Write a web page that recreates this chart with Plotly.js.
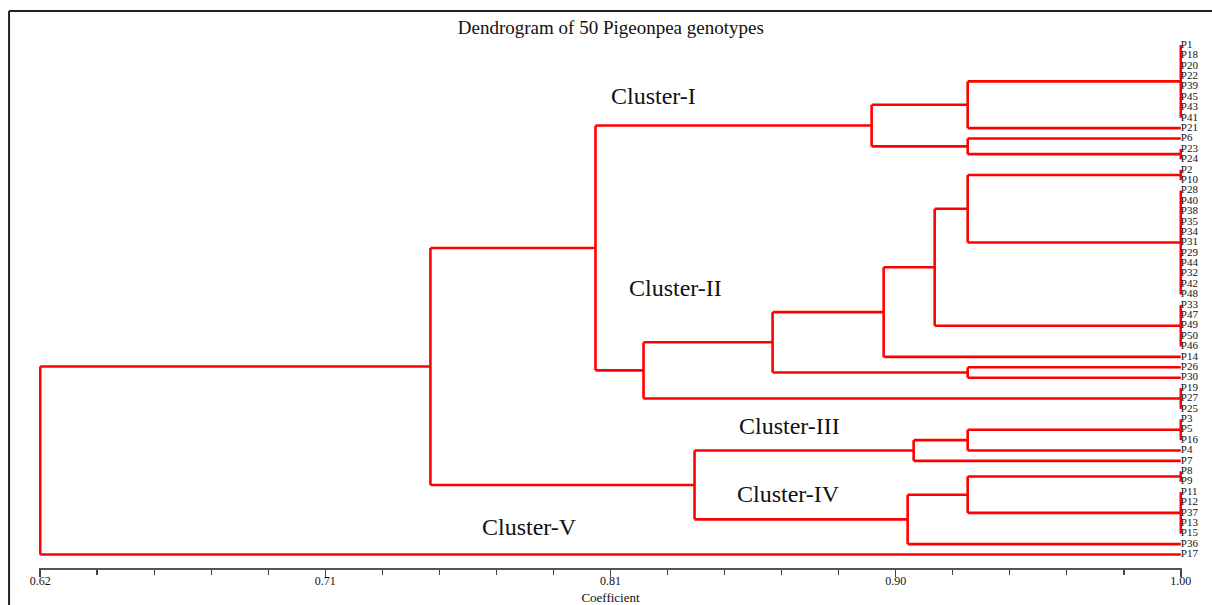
<!DOCTYPE html>
<html>
<head>
<meta charset="utf-8">
<script src="https://cdn.plot.ly/plotly-3.0.1.min.js"></script>
<style>html,body{margin:0;padding:0;background:#fff;}#chart{width:1212px;height:605px;}</style>
</head>
<body>
<div id="chart"></div>
<script>
// Leaf order, top to bottom
const leaves = ["P1","P18","P20","P22","P39","P45","P43","P41","P21","P6","P23","P24",
  "P2","P10","P28","P40","P38","P35","P34","P31","P29","P44","P32","P42","P48",
  "P33","P47","P49","P50","P46","P14","P26","P30","P19","P27","P25",
  "P3","P5","P16","P4","P7","P8","P9","P11","P12","P37","P13","P15","P36","P17"];

// Merge nodes: [name, children, similarity coefficient]
const merges = [
  ["G1", ["P1","P18","P20","P22","P39","P45","P43","P41"], 1.00],
  ["G2", ["P23","P24"], 1.00],
  ["G3", ["P2","P10"], 1.00],
  ["G4", ["P28","P40","P38","P35","P34","P31","P29","P44","P32","P42","P48"], 1.00],
  ["G5", ["P33","P47","P49","P50","P46"], 1.00],
  ["G6", ["P19","P27","P25"], 1.00],
  ["G7", ["P3","P5","P16"], 1.00],
  ["G8", ["P8","P9"], 1.00],
  ["G9", ["P11","P12","P37","P13","P15"], 1.00],
  ["N1", ["G1","P21"], 0.929],
  ["N2", ["P6","G2"], 0.929],
  ["N3", ["N1","N2"], 0.897],
  ["N4", ["G3","G4"], 0.929],
  ["N5", ["N4","G5"], 0.918],
  ["N6", ["N5","P14"], 0.901],
  ["N7", ["P26","P30"], 0.929],
  ["N8", ["N6","N7"], 0.864],
  ["N9", ["N8","G6"], 0.821],
  ["N10", ["N3","N9"], 0.805],
  ["N11", ["G7","P4"], 0.929],
  ["N12", ["N11","P7"], 0.911],
  ["N13", ["G8","G9"], 0.929],
  ["N14", ["N13","P36"], 0.909],
  ["N15", ["N12","N14"], 0.838],
  ["N16", ["N10","N15"], 0.750],
  ["N17", ["N16","P17"], 0.62]
];
const rootName = "N17";

// Cluster labels: [text, coefficient, leaf-row position]
const clusterNames = ["Cluster-I","Cluster-II","Cluster-III","Cluster-IV","Cluster-V"];
const clusterX = [0.8242, 0.8318, 0.8698, 0.8694, 0.7829];
const clusterY = [4.9, 23.4, 36.6, 43.2, 46.35];

const tickVals = [0.62, 0.715, 0.81, 0.905, 1.00];
const tickText = ["0.62", "0.71", "0.81", "0.90", "1.00"];

// Build line coordinates from the tree
const mergeMap = {};
merges.forEach(m => { mergeMap[m[0]] = {children: m[1], h: m[2]}; });
const lx = [], ly = [];
function place(name) {
  if (!(name in mergeMap)) {
    return {x: 1.00, y: leaves.indexOf(name)};
  }
  const node = mergeMap[name];
  const kids = node.children.map(place);
  kids.forEach(k => { lx.push(node.h, k.x, null); ly.push(k.y, k.y, null); });
  const y0 = kids[0].y, y1 = kids[kids.length - 1].y;
  lx.push(node.h, node.h, null); ly.push(y0, y1, null);
  return {x: node.h, y: (y0 + y1) / 2};
}
place(rootName);

const serif = "Liberation Serif, Times New Roman, serif";

const traces = [
  {type: "scatter", mode: "lines", x: lx, y: ly,
   line: {color: "#ff0000", width: 2.6}, hoverinfo: "skip", connectgaps: false},
  {type: "scatter", mode: "text", x: leaves.map(() => 1.00), y: leaves.map((_, i) => i),
   text: leaves, textposition: "middle right", cliponaxis: false,
   textfont: {family: serif, size: 11, color: "#111"}, hoverinfo: "skip"}
];

const annotations = clusterNames.map((t, i) => ({
  text: t, x: clusterX[i], y: clusterY[i], xref: "x", yref: "y",
  showarrow: false, font: {family: serif, size: 24, color: "#111"}
}));

const layout = {
  width: 1212, height: 605,
  margin: {l: 39, r: 30, t: 35, b: 37},
  paper_bgcolor: "#fff", plot_bgcolor: "#fff",
  showlegend: false,
  title: {text: "Dendrogram of 50 Pigeonpea genotypes", x: 0.504, xref: "container",
          y: 0.954, yref: "container", yanchor: "middle",
          font: {family: serif, size: 19, color: "#111"}},
  xaxis: {range: [0.6196, 1.0004], tickmode: "array", tickvals: tickVals, ticktext: tickText,
          ticks: "outside", ticklen: 7, tickwidth: 1.5, tickcolor: "#444",
          ticklabelstandoff: -6,
          showline: true, linecolor: "#555", linewidth: 2, showgrid: false, zeroline: false,
          tickfont: {family: serif, size: 12, color: "#111"},
          minor: {tick0: 0.62, dtick: 0.019, ticks: "outside", ticklen: 5, tickwidth: 1.5,
                  tickcolor: "#444", showgrid: false},
          title: {text: "Coefficient", standoff: 8, font: {family: serif, size: 13, color: "#111"}}},
  yaxis: {range: [50.3, -0.96], visible: false, showgrid: false, zeroline: false},
  annotations: annotations,
  shapes: [
    {type: "line", xref: "paper", yref: "paper", x0: -0.0262, x1: -0.0262, y0: 1.045, y1: -0.1,
     line: {color: "#222", width: 2}},
    {type: "line", xref: "paper", yref: "paper", x0: -0.0262, x1: 1.05, y0: 1.045, y1: 1.045,
     line: {color: "#222", width: 2}}
  ]
};

Plotly.newPlot("chart", traces, layout, {displayModeBar: false, staticPlot: true});
</script>
</body>
</html>
